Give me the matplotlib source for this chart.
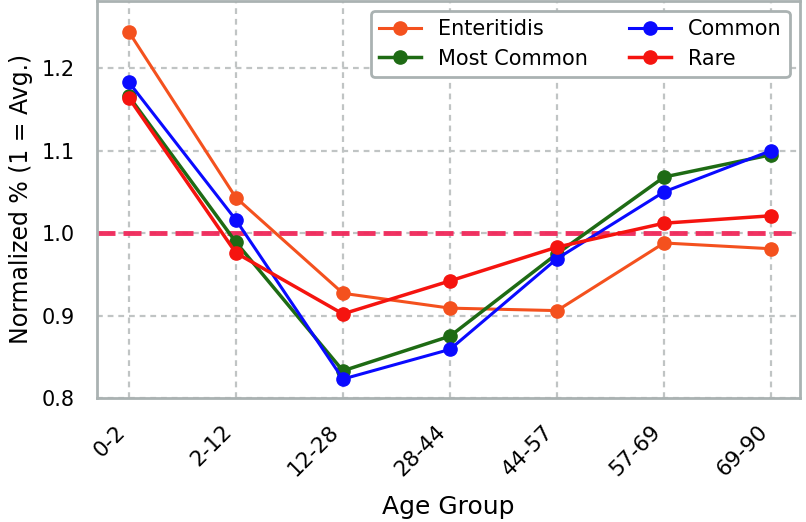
import matplotlib.pyplot as plt

age_groups = ["0-2", "2-12", "12-28", "28-44", "44-57", "57-69", "69-90"]
enteritidis = [1.244, 1.043, 0.927, 0.909, 0.906, 0.988, 0.981]
most_common = [1.166, 0.989, 0.833, 0.875, 0.975, 1.068, 1.095]
common = [1.183, 1.016, 0.823, 0.859, 0.969, 1.050, 1.100]
rare = [1.164, 0.976, 0.902, 0.942, 0.983, 1.012, 1.021]

fig, ax = plt.subplots(figsize=(8.06, 5.22), dpi=100)
fig.subplots_adjust(left=0.120, right=0.9926, top=0.999, bottom=0.2375)
x = range(len(age_groups))

# reference line at the average
ref = ax.axhline(1.0, color="#f0285a", linewidth=3.5, alpha=0.95, zorder=2)
ref.set_dashes((3.7, 1.65))
ax.plot(x, enteritidis, marker="o", color="#f4511e", linewidth=2.2, markersize=9.5, label="Enteritidis", zorder=3)
ax.plot(x, most_common, marker="o", color="#1e6b14", linewidth=2.5, markersize=9.5, label="Most Common", zorder=3)
ax.plot(x, common, marker="o", color="#0a0aff", linewidth=2.2, markersize=9.5, label="Common", zorder=3)
ax.plot(x, rare, marker="o", color="#f5140f", linewidth=2.5, markersize=9.5, label="Rare", zorder=3)

ax.set_xticks(list(x))
ax.set_xticklabels(age_groups, rotation=45, ha="right", fontsize=15.5)
ax.tick_params(axis="y", labelsize=15, pad=16)
ax.tick_params(axis="x", pad=17)
ax.tick_params(length=0)
ax.set_yticks([0.8, 0.9, 1.0, 1.1, 1.2])
ax.set_ylim(0.8, 1.282)
ax.set_xlim(-0.3, 6.27)
ax.set_xlabel("Age Group", fontsize=18, labelpad=10.5)
ax.set_ylabel("Normalized % (1 = Avg.)", fontsize=17, labelpad=6)
ax.grid(True, color="#c0c4c4", linewidth=1.6, dashes=(2.6, 2.2))
for s in ax.spines.values():
    s.set_color("#aab2b2")
    s.set_linewidth(2)

leg = ax.legend(ncol=2, fontsize=15, loc="upper right", framealpha=1,
                edgecolor="#aab2b2", columnspacing=2.0, handlelength=2.0,
                borderaxespad=0.5, labelspacing=0.45)
leg.get_frame().set_linewidth(2)

plt.savefig("out.png")
